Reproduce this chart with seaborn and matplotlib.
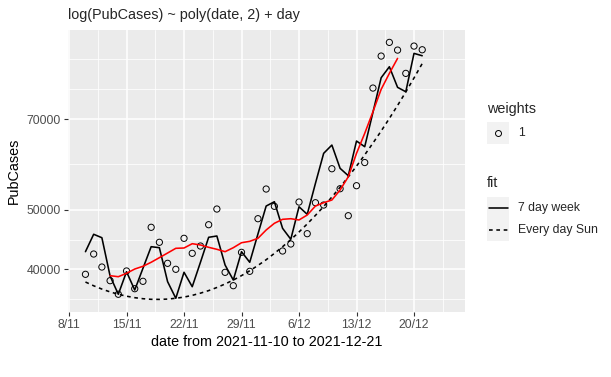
import matplotlib
matplotlib.use("Agg")
import matplotlib.pyplot as plt
import matplotlib.dates as mdates
from matplotlib.ticker import FixedLocator, FixedFormatter, NullFormatter
from matplotlib.patches import Rectangle
import seaborn as sns
import pandas as pd

# daily data, 2021-11-10 .. 2021-12-21
dates = pd.date_range("2021-11-10", "2021-12-21", freq="D")

pub_cases = [39290, 42370, 40370, 38370, 36480, 39780, 37240, 38280, 46800, 44260,
             40930, 40030, 44920, 42480, 43650, 47250, 50090, 39580, 37660, 42640,
             39730, 48320, 53960, 50600, 42850, 43980, 51410, 45700, 51280, 50840,
             58190, 54020, 48860, 54630, 59550, 78560, 88490, 93110, 90480, 82970,
             91840, 90590]

# fitted: log(PubCases) ~ poly(date, 2) + day
fit_week = [42740, 45600, 45020, 39040, 36480, 39670, 37060, 40180, 43540, 43380,
            38230, 35940, 39590, 37520, 41090, 45090, 45310, 40670, 38460, 42740,
            41090, 45650, 50650, 51470, 46620, 44760, 50520, 49110, 55110, 61620,
            63550, 58280, 56700, 64510, 63160, 71770, 81630, 85040, 78770, 77490,
            89380, 88590]

# same fit with every day treated as Sunday
fit_sun = [38180, 37650, 37190, 36800, 36480, 36220, 36020, 35880, 35800, 35790,
           35830, 35940, 36100, 36330, 36630, 36980, 37410, 37900, 38460, 39100,
           39810, 40610, 41480, 42470, 43540, 44700, 45990, 47390, 48920, 50560,
           52380, 54320, 56470, 58760, 61280, 64010, 66950, 70170, 73640, 77430,
           81570, 86060]

# 7 day rolling mean (red)
roll_dates = pd.date_range("2021-11-13", "2021-12-18", freq="D")
roll_mean = [39090, 38940, 39440, 40070, 40480, 41090, 41800, 42530, 43280, 43330,
             44030, 43820, 43440, 43120, 42740, 43380, 44190, 44420, 44920, 46330,
             47500, 48210, 48320, 48090, 48990, 50650, 51280, 51800, 53760, 56480,
             61620, 66380, 71930, 78180, 82970, 87730]

x_ticks = pd.to_datetime(["2021-11-08", "2021-11-15", "2021-11-22", "2021-11-29",
                          "2021-12-06", "2021-12-13", "2021-12-20"])
x_tick_labels = ["8/11", "15/11", "22/11", "29/11", "6/12", "13/12", "20/12"]
x_minor = pd.to_datetime(["2021-11-11 12:00", "2021-11-18 12:00", "2021-11-25 12:00",
                          "2021-12-02 12:00", "2021-12-09 12:00", "2021-12-16 12:00",
                          "2021-12-23 12:00"])
y_ticks = [40000, 50000, 70000]
y_minor = [35777, 44721, 59161, 78262, 87500]

sns.set_theme(style="darkgrid", rc={"axes.facecolor": "#EBEBEB", "grid.color": "white"})
plt.rcParams['font.family'] = ['Liberation Sans', 'DejaVu Sans']

W, H = 611, 377
fig = plt.figure(figsize=(W / 100, H / 100), dpi=100)
fig.patch.set_facecolor("white")
ax = fig.add_axes([68 / W, 1 - 312 / H, (465 - 68) / W, (312 - 30) / H])

lw = 1.15
sns.scatterplot(x=dates, y=pub_cases, ax=ax, marker="o", s=20,
                facecolor="none", edgecolor="black", linewidth=0.7, zorder=3)
sns.lineplot(x=dates, y=fit_week, ax=ax, color="black", linewidth=lw, zorder=4)
sns.lineplot(x=dates, y=fit_sun, ax=ax, color="black", linewidth=lw,
             linestyle=(0, (2.3, 2.3)), zorder=4)
sns.lineplot(x=roll_dates, y=roll_mean, ax=ax, color="red", linewidth=lw, zorder=5)

ax.set_yscale("log")
ax.set_ylim(34150, 97500)
ax.set_xlim(pd.Timestamp("2021-11-07 21:00"), pd.Timestamp("2021-12-26 05:00"))

ax.yaxis.set_major_locator(FixedLocator(y_ticks))
ax.yaxis.set_major_formatter(FixedFormatter([str(v) for v in y_ticks]))
ax.yaxis.set_minor_locator(FixedLocator(y_minor))
ax.yaxis.set_minor_formatter(NullFormatter())
ax.xaxis.set_major_locator(FixedLocator(mdates.date2num(x_ticks)))
ax.xaxis.set_major_formatter(FixedFormatter(x_tick_labels))
ax.xaxis.set_minor_locator(FixedLocator(mdates.date2num(x_minor)))
ax.xaxis.set_minor_formatter(NullFormatter())

ax.grid(which="major", color="white", linewidth=1.1)
ax.grid(which="minor", color="white", linewidth=0.55)
ax.set_axisbelow(True)
for s in ax.spines.values():
    s.set_visible(False)
ax.tick_params(which="major", length=2.8, width=0.8, color="#333333",
               labelcolor="#4D4D4D", labelsize=8.8, pad=2.2,
               bottom=True, left=True)
ax.tick_params(which="minor", length=0)

ax.set_xlabel("date from 2021-11-10 to 2021-12-21", fontsize=10.4, color="black", labelpad=3)
ax.set_ylabel("PubCases", fontsize=10.4, color="black", labelpad=4)
fig.text(68 / W, 1 - 14.5 / H, "log(PubCases) ~ poly(date, 2) + day",
         fontsize=10.4, ha="left", va="center")

# legends, drawn ggplot style in pixel space
lax = fig.add_axes([0, 0, 1, 1], zorder=10)
lax.set_xlim(0, W)
lax.set_ylim(H, 0)
lax.axis("off")
key_bg = "#F2F2F2"
lax.text(487, 109, "weights", fontsize=10.4, va="center", ha="left")
lax.add_patch(Rectangle((487, 122), 22, 22, facecolor=key_bg, edgecolor="none"))
lax.plot([498], [133], marker="o", ms=4.3, mfc="none", mec="black", mew=0.7)
lax.text(518, 133, "1", fontsize=8.8, va="center", ha="left")

lax.text(487, 183, "fit", fontsize=10.4, va="center", ha="left")
lax.add_patch(Rectangle((487, 197), 22, 44, facecolor=key_bg, edgecolor="none"))
lax.plot([488.5, 507.5], [208, 208], color="black", lw=lw)
lax.plot([488.5, 507.5], [230, 230], color="black", lw=lw, linestyle=(0, (2.3, 2.3)))
lax.text(518, 208, "7 day week", fontsize=8.8, va="center", ha="left")
lax.text(518, 230, "Every day Sun", fontsize=8.8, va="center", ha="left")

fig.savefig("out.png", dpi=100)
